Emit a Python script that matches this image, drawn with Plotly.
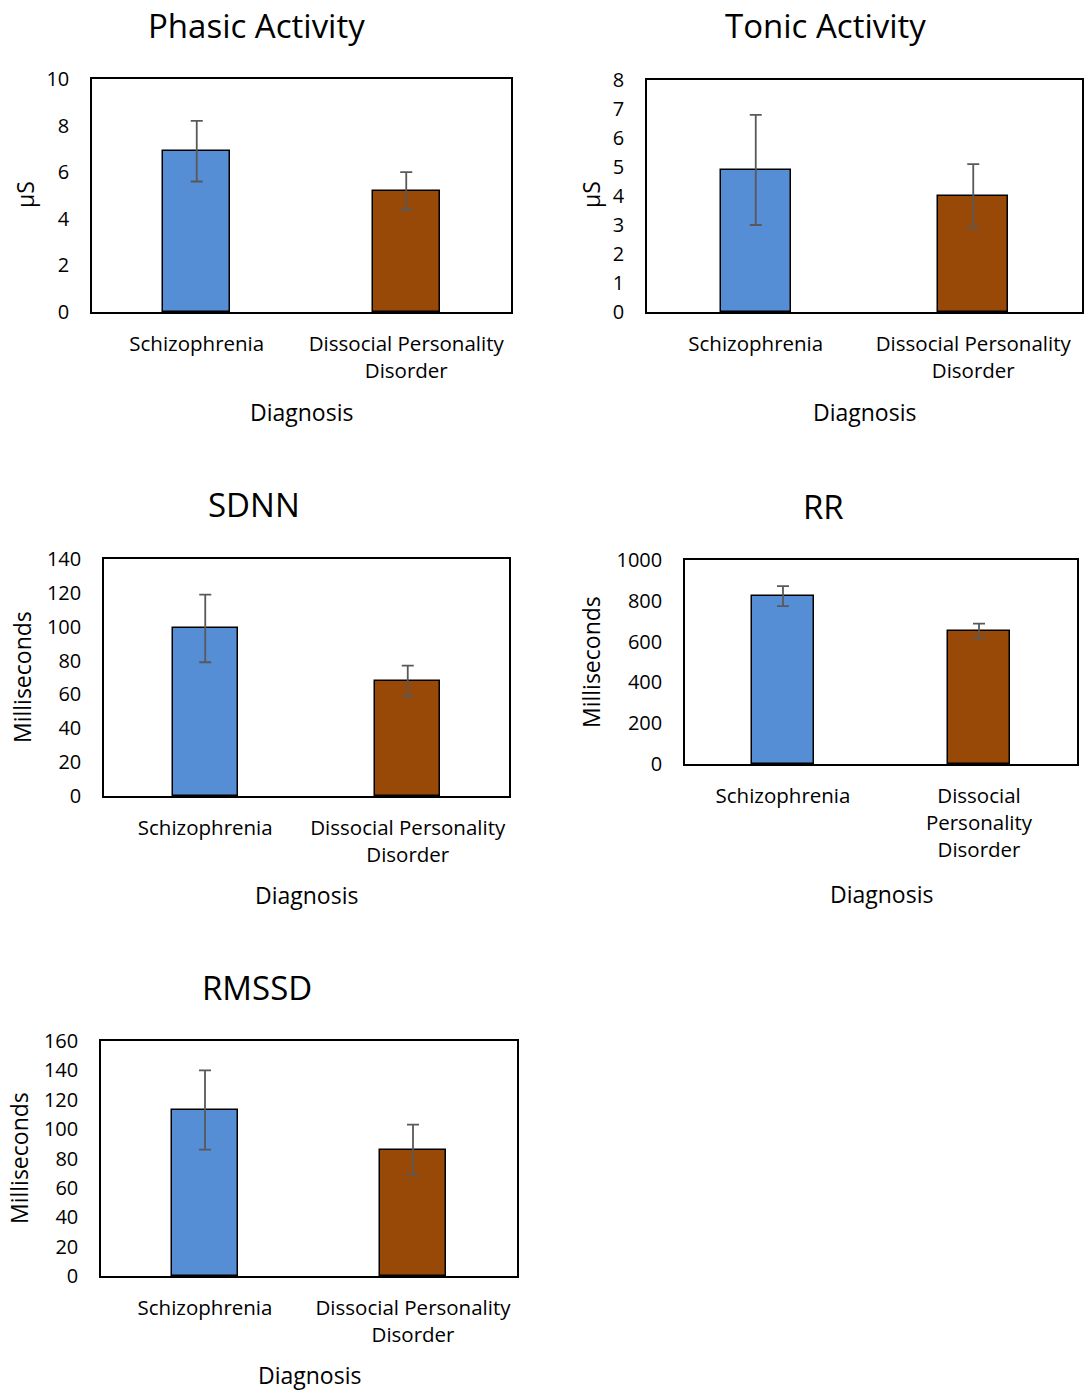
import plotly.graph_objects as go

W, H = 1087, 1390

categories = ["Schizophrenia", "Dissocial Personality Disorder"]
colors = ["#558ED5", "#984807"]

phasic_vals = [6.9, 5.2]
phasic_err = [1.3, 0.8]
tonic_vals = [4.9, 4.0]
tonic_err = [1.9, 1.1]
sdnn_vals = [99, 68]
sdnn_err = [20, 9]
rr_vals = [823, 652]
rr_err = [49, 36]
rmssd_vals = [113, 86]
rmssd_err = [27, 17]

titles = ["Phasic Activity", "Tonic Activity", "SDNN", "RR", "RMSSD"]
y_titles = ["µS", "µS", "Milliseconds", "Milliseconds", "Milliseconds"]
x_title = "Diagnosis"
tick_text_2 = ["Schizophrenia", "Dissocial Personality<br>Disorder"]
tick_text_3 = ["Schizophrenia", "Dissocial<br>Personality<br>Disorder"]

y_ranges = [(0, 10, 2), (0, 8, 1), (0, 140, 20), (0, 1000, 200), (0, 160, 20)]

# layout in pixels: plot area (x0, x1, y0, y1)
boxes = [(92, 511, 79, 312), (647, 1082, 80, 312), (104, 509, 559, 796),
         (685, 1077, 560, 764), (101, 517, 1041, 1276)]
title_pos = [(256, 25), (825, 25), (254, 504), (823, 507), (257, 987)]
ytitle_pos = [(25, 195), (591, 195), (22, 677), (591, 662), (19, 1158)]
xtitle_pos = [(301, 412), (864, 412), (306, 895), (881, 894), (309, 1375)]

series = [(phasic_vals, phasic_err), (tonic_vals, tonic_err), (sdnn_vals, sdnn_err),
          (rr_vals, rr_err), (rmssd_vals, rmssd_err)]
ticktexts = [tick_text_2, tick_text_2, tick_text_2, tick_text_3, tick_text_2]

FONT = "Open Sans"
fig = go.Figure()
annotations = []

def px(x):
    return x / W

def py(y):
    return 1 - y / H

for i, ((vals, errs), box) in enumerate(zip(series, boxes)):
    n = "" if i == 0 else str(i + 1)
    fig.add_trace(go.Bar(
        x=categories, y=vals, width=0.32,
        marker=dict(color=colors, line=dict(color="black", width=1.5)),
        error_y=dict(type="data", array=errs, visible=True, color="#595959",
                     thickness=1.8, width=6),
        xaxis="x" + n, yaxis="y" + n, showlegend=False,
    ))
    x0, x1, y0, y1 = box
    lo, hi, dt = y_ranges[i]
    fig.update_layout(**{
        "xaxis" + n: dict(domain=[px(x0), px(x1)], anchor="y" + n,
                          showline=True, linecolor="black", linewidth=1.5, mirror=True,
                          showgrid=False, ticks="", tickmode="array",
                          tickvals=categories, ticktext=ticktexts[i],
                          tickfont=dict(family=FONT, size=20.5, color="black"),
                          ticklabelstandoff=13, fixedrange=True, automargin=False),
        "yaxis" + n: dict(domain=[py(y1), py(y0)], anchor="x" + n,
                          range=[lo, hi], dtick=dt, tick0=0,
                          showline=True, linecolor="black", linewidth=1.5, mirror=True,
                          showgrid=False, zeroline=False, ticks="",
                          tickfont=dict(family=FONT, size=20, color="black"),
                          ticklabelstandoff=17, fixedrange=True, automargin=False),
    })
    tx, ty = title_pos[i]
    annotations.append(dict(text=titles[i], x=px(tx), y=py(ty), xref="paper", yref="paper",
                            showarrow=False, xanchor="center", yanchor="middle",
                            font=dict(family=FONT, size=33, color="black")))
    ax_, ay_ = ytitle_pos[i]
    annotations.append(dict(text=y_titles[i], x=px(ax_), y=py(ay_), xref="paper", yref="paper",
                            showarrow=False, xanchor="center", yanchor="middle", textangle=-90,
                            font=dict(family=FONT, size=23, color="black")))
    bx, by = xtitle_pos[i]
    annotations.append(dict(text=x_title, x=px(bx), y=py(by), xref="paper", yref="paper",
                            showarrow=False, xanchor="center", yanchor="middle",
                            font=dict(family=FONT, size=23, color="black")))

fig.update_layout(width=W, height=H, margin=dict(l=0, r=0, t=0, b=0, pad=0, autoexpand=False),
                  paper_bgcolor="white", plot_bgcolor="white",
                  annotations=annotations, bargap=0)
fig.write_html("out.html")
